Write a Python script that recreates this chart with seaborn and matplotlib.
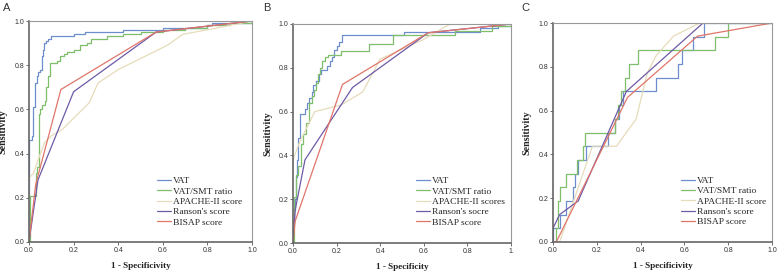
import matplotlib
matplotlib.use("Agg")
import matplotlib.pyplot as plt
import seaborn as sns
import pandas as pd

# ---------------- data ----------------
series = ["VAT", "VAT/SMT ratio", "APACHE-II", "Ranson", "BISAP"]
labels_A = ["VAT", "VAT/SMT ratio", "APACHE-II score", "Ranson's score", "BISAP score"]
labels_B = ["VAT", "VAT/SMT ratio", "APACHE-II scores", "Ranson's socre", "BISAP score"]
labels_C = ["VAT", "VAT/SMT ratio", "APACHE-II score", "Ranson's score", "BISAP score"]
xlabels = ["1 - Specificivity", "1 - Specificity", "1 - Specificivity"]
panel_letters = ["A", "B", "C"]
xtick_vals = [0.0, 0.2, 0.4, 0.6, 0.8, 1.0]
xtick_labels_A = ["0.0", "0.2", "0.4", "0.6", "0.8", "1.0"]
xtick_labels_B = ["0.0", "0.2", "0.4", "0.6", "0.8", "1."]
ytick_vals = [0.0, 0.2, 0.4, 0.6, 0.8, 1.0]
ytick_labels = ["0.0", "0.2", "0.4", "0.6", "0.8", "1.0"]

# Panel A -- step curves given as (fpr at jump, tpr after jump)
A_vat_x = [0, 0.015, 0.02, 0.027, 0.034, 0.042, 0.05, 0.057, 0.061, 0.067, 0.075, 0.085, 0.10, 0.20, 0.25, 0.42, 0.60, 0.80, 0.82, 1.0]
A_vat_y = [0.46, 0.48, 0.61, 0.72, 0.75, 0.77, 0.78, 0.84, 0.87, 0.90, 0.91, 0.92, 0.93, 0.94, 0.95, 0.96, 0.97, 0.98, 0.99, 1.0]
A_smt_x = [0.005, 0.03, 0.038, 0.045, 0.05, 0.06, 0.07, 0.075, 0.085, 0.095, 0.125, 0.14, 0.155, 0.17, 0.20, 0.23, 0.26, 0.28, 0.35, 0.42, 0.5, 0.6, 0.7, 0.8, 0.9, 1.0]
A_smt_y = [0.21, 0.31, 0.34, 0.58, 0.60, 0.62, 0.64, 0.70, 0.75, 0.81, 0.82, 0.84, 0.85, 0.86, 0.87, 0.89, 0.90, 0.92, 0.93, 0.94, 0.95, 0.96, 0.97, 0.98, 0.99, 1.0]
# polyline curves
A_apache_x = [0, 0, 0.02, 0.04, 0.07, 0.10, 0.15, 0.20, 0.27, 0.31, 0.40, 0.50, 0.62, 0.69, 0.80, 1.0]
A_apache_y = [0, 0.29, 0.31, 0.37, 0.45, 0.48, 0.51, 0.56, 0.63, 0.72, 0.78, 0.83, 0.89, 0.94, 0.96, 1.0]
A_ranson_x = [0, 0.04, 0.20, 0.57, 1.0]
A_ranson_y = [0, 0.28, 0.68, 0.95, 1.0]
A_bisap_x = [0, 0.03, 0.143, 0.57, 1.0]
A_bisap_y = [0, 0.26, 0.69, 0.95, 1.0]

# Panel B
B_vat_x = [0, 0.005, 0.01, 0.015, 0.02, 0.025, 0.032, 0.054, 0.062, 0.074, 0.085, 0.094, 0.105, 0.12, 0.13, 0.155, 0.17, 0.18, 0.19, 0.20, 0.21, 0.227, 0.51, 0.86, 0.94, 1.0]
B_vat_y = [0.10, 0.15, 0.20, 0.30, 0.38, 0.48, 0.59, 0.61, 0.64, 0.66, 0.69, 0.72, 0.74, 0.77, 0.79, 0.81, 0.83, 0.85, 0.88, 0.90, 0.92, 0.95, 0.965, 0.98, 0.99, 1.0]
B_smt_x = [0.005, 0.015, 0.025, 0.035, 0.045, 0.06, 0.075, 0.085, 0.095, 0.105, 0.115, 0.125, 0.135, 0.145, 0.16, 0.22, 0.35, 0.457, 0.744, 0.913, 1.0]
B_smt_y = [0.21, 0.31, 0.35, 0.45, 0.50, 0.55, 0.64, 0.67, 0.70, 0.73, 0.77, 0.80, 0.83, 0.85, 0.86, 0.875, 0.91, 0.95, 0.97, 0.99, 1.0]
B_apache_x = [0, 0, 0.03, 0.06, 0.10, 0.22, 0.32, 0.40, 0.60, 0.72, 1.0]
B_apache_y = [0, 0.38, 0.46, 0.52, 0.60, 0.63, 0.69, 0.84, 0.93, 1.0, 1.0]
B_ranson_x = [0, 0.01, 0.055, 0.273, 0.62, 1.0]
B_ranson_y = [0, 0.15, 0.38, 0.71, 0.96, 1.0]
B_bisap_x = [0, 0.01, 0.227, 0.62, 1.0]
B_bisap_y = [0, 0.10, 0.724, 0.96, 1.0]

# Panel C
C_vat_x = [0, 0.03, 0.06, 0.09, 0.10, 0.115, 0.15, 0.25, 0.285, 0.30, 0.32, 0.47, 0.57, 0.59, 0.64, 0.69, 1.0]
C_vat_y = [0.0625, 0.125, 0.1875, 0.25, 0.3125, 0.375, 0.4375, 0.5, 0.5625, 0.625, 0.6875, 0.75, 0.8125, 0.875, 0.9375, 1.0, 1.0]
C_smt_x = [0.012, 0.025, 0.03, 0.06, 0.11, 0.138, 0.145, 0.285, 0.295, 0.31, 0.33, 0.345, 0.39, 0.74, 0.80, 1.0]
C_smt_y = [0.0625, 0.1875, 0.25, 0.3125, 0.375, 0.4375, 0.5, 0.5625, 0.625, 0.6875, 0.75, 0.8125, 0.875, 0.9375, 1.0, 1.0]
C_apache_x = [0, 0.03, 0.18, 0.29, 0.38, 0.43, 0.47, 0.55, 0.67, 1.0]
C_apache_y = [0, 0, 0.4375, 0.4375, 0.5625, 0.77, 0.85, 0.94, 1.0, 1.0]
C_ranson_x = [0, 0, 0.03, 0.115, 0.335, 0.685, 1.0]
C_ranson_y = [0, 0.0625, 0.125, 0.1875, 0.6875, 1.0, 1.0]
C_bisap_x = [0, 0.015, 0.34, 0.66, 1.0]
C_bisap_y = [0, 0, 0.66, 0.94, 1.0]

colors = ["#6d8dcc", "#7fbf6c", "#e6dcba", "#6e5aa6", "#e0756a"]


def stair(xs, ys):
    vx, vy = [0.0], [0.0]
    prev = 0.0
    for x, y in zip(xs, ys):
        vx += [x, x]
        vy += [prev, y]
        prev = y
    return vx, vy


def build(vat, smt, apache, ranson, bisap):
    rows = []
    curves = [stair(*vat), stair(*smt), apache, ranson, bisap]
    for name, (xs, ys) in zip(series, curves):
        for i, (x, y) in enumerate(zip(xs, ys)):
            rows.append({"fpr": x, "tpr": y, "series": name, "i": i})
    return pd.DataFrame(rows)


dfs = [
    build((A_vat_x, A_vat_y), (A_smt_x, A_smt_y), (A_apache_x, A_apache_y),
          (A_ranson_x, A_ranson_y), (A_bisap_x, A_bisap_y)),
    build((B_vat_x, B_vat_y), (B_smt_x, B_smt_y), (B_apache_x, B_apache_y),
          (B_ranson_x, B_ranson_y), (B_bisap_x, B_bisap_y)),
    build((C_vat_x, C_vat_y), (C_smt_x, C_smt_y), (C_apache_x, C_apache_y),
          (C_ranson_x, C_ranson_y), (C_bisap_x, C_bisap_y)),
]
legend_labels = [labels_A, labels_B, labels_C]
xtick_labels = [xtick_labels_A, xtick_labels_B, xtick_labels_A]

# ---------------- figure ----------------
sns.set_style("white")
plt.rcParams["font.family"] = ["Liberation Sans", "DejaVu Sans"]

fig = plt.figure(figsize=(7.78, 2.71), dpi=100)
W, H = 778, 271
boxes = [(29, 252, 21, 242), (293, 511, 24, 243), (553, 772, 23, 242)]
legend_anchor = [(0.575, 0.07), (0.565, 0.075), (0.585, 0.072)]
ylabel_right_px = [7.5, 272, 531.5]
letter_x = [3, 263, 521]

for k in range(3):
    l, r, t, b = boxes[k]
    ax = fig.add_axes([l / W, 1 - b / H, (r - l) / W, (b - t) / H])
    sns.lineplot(data=dfs[k], x="fpr", y="tpr", hue="series", hue_order=series,
                 palette=colors, sort=False, estimator=None, units="series",
                 linewidth=0.9, legend=False, ax=ax)
    ax.set_xlim(0, 1)
    ax.set_ylim(0, 1)
    ax.set_xticks(xtick_vals)
    ax.set_xticklabels(xtick_labels[k])
    ax.set_yticks(ytick_vals)
    ax.set_yticklabels(ytick_labels)
    ax.tick_params(axis="both", labelsize=5, length=2, width=0.6, pad=1.5,
                   colors="#555555", labelcolor="#333333", direction="out",
                   bottom=True, left=True)
    for side in ["left", "bottom"]:
        ax.spines[side].set_color("#666666")
        ax.spines[side].set_linewidth(1.2)
    for side in ["top", "right"]:
        ax.spines[side].set_color("#999999")
        ax.spines[side].set_linewidth(0.8)
    ax.set_xlabel(xlabels[k], fontsize=6.6, fontweight="bold",
                  family="Liberation Serif", labelpad=6, color="#222222")
    ax.set_ylabel("Sensitivity", fontsize=7.2, fontweight="bold",
                  family="Liberation Serif", color="#222222")
    ax.yaxis.set_label_coords(-(l - ylabel_right_px[k]) / (r - l), 0.5)
    handles = ax.get_lines()[:5]
    ax.legend(handles, legend_labels[k], loc="lower left",
              bbox_to_anchor=legend_anchor[k], frameon=False,
              prop={"family": "Liberation Serif", "size": 6.8},
              handlelength=1.45, handletextpad=0.25, labelspacing=0.18,
              borderaxespad=0, borderpad=0)
    fig.text(letter_x[k] / W, 1 - 3 / H, panel_letters[k], fontsize=8,
             va="top", ha="left", color="#333333")

fig.savefig("out.png", dpi=100)
